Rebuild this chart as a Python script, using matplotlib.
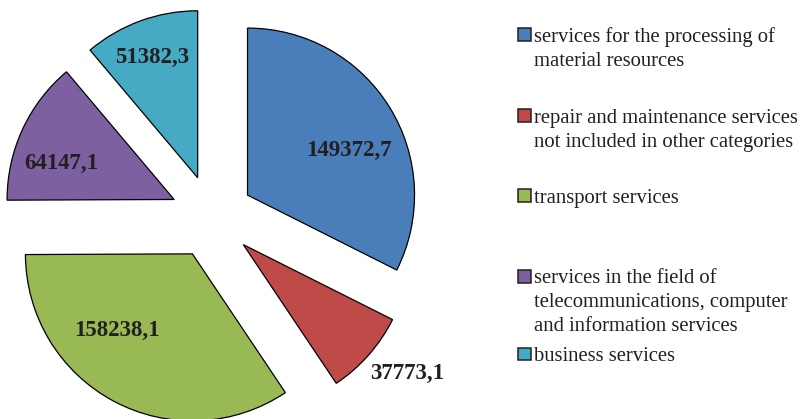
import matplotlib
matplotlib.use("Agg")
import matplotlib.pyplot as plt
from matplotlib.patches import Rectangle
import numpy as np

categories = [
    "services for the processing of\nmaterial resources",
    "repair and maintenance services\nnot included in other categories",
    "transport services",
    "services in the field of\ntelecommunications, computer\nand information services",
    "business services",
]
values = [149372.7, 37773.1, 158238.1, 64147.1, 51382.3]
value_labels = ["149372,7", "37773,1", "158238,1", "64147,1", "51382,3"]
colors = ["#4A7EBB", "#BE4B48", "#98B954", "#7D60A0", "#46AAC5"]

W, H = 805, 419
fig = plt.figure(figsize=(W / 100, H / 100), dpi=100)
ax = fig.add_axes([0, 0, 1, 1])

R = 167.0              # pixel radius
cx, cy = 212.0, 217.0  # pixel centre (from top)

wedges, _ = ax.pie(values, colors=colors, startangle=90, counterclock=False,
                   explode=[0.25] * len(values), radius=1.0,
                   wedgeprops=dict(edgecolor="black", linewidth=0.9))
ax.set_xlim(-cx / R, (W - cx) / R)
ax.set_ylim(-(H - cy) / R, cy / R)
ax.set_aspect("auto")
ax.axis("off")

# label placement (radius in units of pie radius, angle in degrees)
label_pos = [(0.91, 25.8), (1.50, -38.7), (0.89, -130.0), (0.96, 160.4), (1.02, 110.6)]
for txt, (r, a) in zip(value_labels, label_pos):
    t = np.deg2rad(a)
    ax.text(r * np.cos(t), r * np.sin(t), txt, ha="center", va="center",
            fontsize=16.5, fontweight="bold", family="Liberation Serif", color="#231F20")

# legend drawn manually (first-line baselines in pixels from top)
baselines = [41.7, 122.7, 202.7, 283.3, 361.0]
sq = 12.5
line_step = 24.0
for lab, col, yb in zip(categories, colors, baselines):
    yc = yb - 7.0
    fig.patches.append(Rectangle((517.5 / W, 1 - (yc + sq / 2) / H), 13.0 / W, sq / H,
                                 transform=fig.transFigure, facecolor=col,
                                 edgecolor="#231F20", linewidth=1.1))
    for i, line in enumerate(lab.split("\n")):
        fig.text(534.0 / W, 1 - (yb + i * line_step) / H, line, ha="left", va="baseline",
                 fontsize=14.9, family="Liberation Serif", color="#231F20")

fig.savefig("out.png", dpi=100)
